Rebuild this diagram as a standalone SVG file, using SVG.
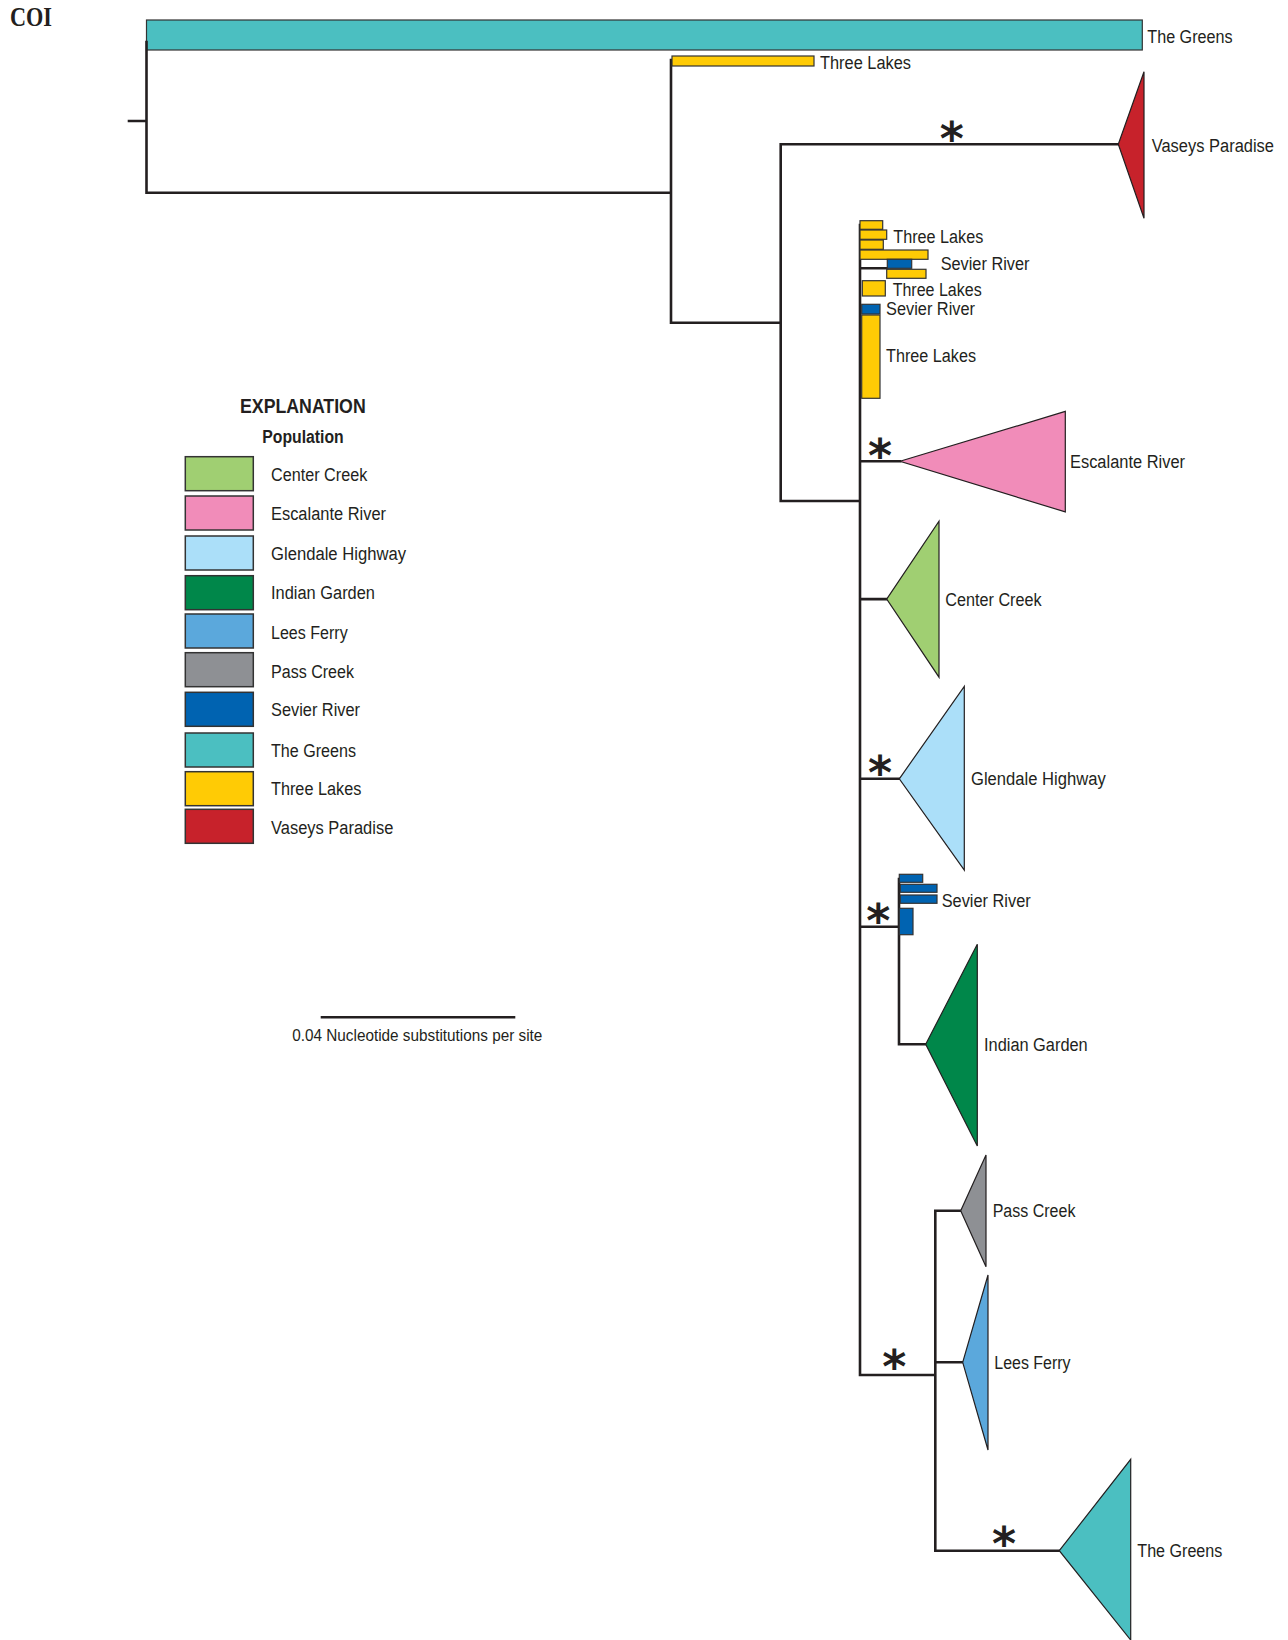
<svg xmlns="http://www.w3.org/2000/svg" width="1288" height="1640" viewBox="0 0 1288 1640">
<style>
.lbl{font-family:"Liberation Sans",Arial,sans-serif;font-size:18px;fill:#231f20}
.bold{font-family:"Liberation Sans",Arial,sans-serif;font-weight:bold;fill:#231f20}
.br{fill:none;stroke:#231f20;stroke-width:2.6;stroke-linecap:square}
.bar{stroke:#333;stroke-width:1.2}
.tri{stroke:#231f20;stroke-width:1.2;stroke-linejoin:miter}
.sw{stroke:#333;stroke-width:1.5}
.ast{font-family:"DejaVu Sans",sans-serif;font-weight:bold;font-size:46px;fill:#231f20;text-anchor:middle}
.cc{fill:#a0cf72}.er{fill:#f18cb9}.gh{fill:#abdff9}.ig{fill:#00874a}.lf{fill:#5ba8dc}
.pc{fill:#8e9094}.sr{fill:#0063b1}.tg{fill:#4bbfc1}.tl{fill:#ffcb05}.vp{fill:#c7222b}
</style>
<text x="10" y="26" class="bold" style="font-family:'Liberation Serif',serif;font-size:27px" textLength="42" lengthAdjust="spacingAndGlyphs">COI</text>

<g id="leaf-the-greens-top">
<rect x="146.5" y="20" width="995.8" height="30" class="bar tg"/>
<text x="1147.3" y="43.2" class="lbl" textLength="85.3" lengthAdjust="spacingAndGlyphs">The Greens</text>
</g>

<g id="connectors">
<path class="br" d="M129,121 H146.5 M146.5,42 V192.7 H671 M671,60 V322.7 H780.7 M780.7,144.3 V501 M780.7,144.3 H1118.3 M780.7,501 H860 M860,225 V1375 M860,268.3 H887 M860,461.3 H900 M860,599.1 H886.7 M860,778.8 H899.3 M860,926.7 H899 M899,879 V1044.3 H925.7 M860,1375 H935.3 M935.3,1210.7 V1550.7 M935.3,1210.7 H960.7 M935.3,1362.3 H962.7 M935.3,1550.7 H1059.3"/>
</g>

<g id="leaf-three-lakes-top">
<rect x="672" y="56" width="142" height="10" class="bar tl"/>
<text x="820" y="69.2" class="lbl" textLength="91" lengthAdjust="spacingAndGlyphs">Three Lakes</text>
</g>

<g id="clade-vaseys-paradise">
<polygon points="1118.3,144.3 1144,71.7 1144,218.3" class="tri vp"/>
<text x="1151.7" y="152.2" class="lbl" textLength="122.3" lengthAdjust="spacingAndGlyphs">Vaseys Paradise</text>
</g>

<g id="leaves-small-bars">
<rect x="860" y="220.7" width="22.7" height="8.6" class="bar tl"/>
<rect x="860" y="230" width="26.7" height="9.3" class="bar tl"/>
<rect x="860" y="240" width="23.3" height="9.3" class="bar tl"/>
<rect x="860" y="250" width="68" height="9.3" class="bar tl"/>
<rect x="887.3" y="259.3" width="24.4" height="9" class="bar sr"/>
<rect x="886.7" y="269.3" width="39.3" height="9" class="bar tl"/>
<rect x="862.3" y="280.7" width="23" height="15.3" class="bar tl"/>
<rect x="861.7" y="304.3" width="18.3" height="9.7" class="bar sr"/>
<rect x="861.7" y="315" width="18.3" height="83.3" class="bar tl"/>
<text x="893.3" y="242.7" class="lbl" textLength="90" lengthAdjust="spacingAndGlyphs">Three Lakes</text>
<text x="940.7" y="270" class="lbl" textLength="88.7" lengthAdjust="spacingAndGlyphs">Sevier River</text>
<text x="892.7" y="296" class="lbl" textLength="89" lengthAdjust="spacingAndGlyphs">Three Lakes</text>
<text x="886" y="315.3" class="lbl" textLength="89" lengthAdjust="spacingAndGlyphs">Sevier River</text>
<text x="886" y="362" class="lbl" textLength="90" lengthAdjust="spacingAndGlyphs">Three Lakes</text>
</g>

<g id="clade-escalante-river">
<polygon points="900,461.3 1065.3,411.4 1065.3,511.9" class="tri er"/>
<text x="1070" y="467.8" class="lbl" textLength="115" lengthAdjust="spacingAndGlyphs">Escalante River</text>
</g>

<g id="clade-center-creek">
<polygon points="886.7,599.1 939,521.2 939,677.2" class="tri cc"/>
<text x="945.3" y="605.6" class="lbl" textLength="96.3" lengthAdjust="spacingAndGlyphs">Center Creek</text>
</g>

<g id="clade-glendale-highway">
<polygon points="899.3,778.8 964.3,686.5 964.3,870.1" class="tri gh"/>
<text x="971" y="785.3" class="lbl" textLength="134.7" lengthAdjust="spacingAndGlyphs">Glendale Highway</text>
</g>

<g id="leaves-sevier-river">
<rect x="899.3" y="874.3" width="23.4" height="8" class="bar sr"/>
<rect x="900.3" y="884.3" width="36.7" height="8" class="bar sr"/>
<rect x="900.3" y="895" width="36.7" height="8.3" class="bar sr"/>
<rect x="899.3" y="908.3" width="13.7" height="26.4" class="bar sr"/>
<text x="941.7" y="907.3" class="lbl" textLength="89" lengthAdjust="spacingAndGlyphs">Sevier River</text>
</g>

<g id="clade-indian-garden">
<polygon points="925.7,1044.3 977.3,944.3 977.3,1146" class="tri ig"/>
<text x="984" y="1051" class="lbl" textLength="103.7" lengthAdjust="spacingAndGlyphs">Indian Garden</text>
</g>

<g id="clade-pass-creek">
<polygon points="960.7,1210.7 986,1155 986,1266.7" class="tri pc"/>
<text x="992.7" y="1217.3" class="lbl" textLength="82.7" lengthAdjust="spacingAndGlyphs">Pass Creek</text>
</g>

<g id="clade-lees-ferry">
<polygon points="962.7,1362.3 988,1275 988,1450" class="tri lf"/>
<text x="994.3" y="1369" class="lbl" textLength="76.3" lengthAdjust="spacingAndGlyphs">Lees Ferry</text>
</g>

<g id="clade-the-greens">
<polygon points="1059.3,1550.7 1130.7,1459.3 1130.7,1640" class="tri tg"/>
<text x="1137.3" y="1557.3" class="lbl" textLength="85" lengthAdjust="spacingAndGlyphs">The Greens</text>
</g>

<g id="support">
<text x="951.7" y="155" class="ast">*</text>
<text x="880" y="472" class="ast">*</text>
<text x="880" y="789" class="ast">*</text>
<text x="878.3" y="936.6" class="ast">*</text>
<text x="894.3" y="1383.3" class="ast">*</text>
<text x="1004" y="1560" class="ast">*</text>
</g>

<g id="legend">
<text x="240" y="413.3" class="bold" style="font-size:21px" textLength="125.7" lengthAdjust="spacingAndGlyphs">EXPLANATION</text>
<text x="262.3" y="443.3" class="bold" style="font-size:17.5px" textLength="81.4" lengthAdjust="spacingAndGlyphs">Population</text>
<rect x="185.3" y="456.7" width="68" height="34" class="sw cc"/>
<rect x="185.3" y="496" width="68" height="34" class="sw er"/>
<rect x="185.3" y="536" width="68" height="34" class="sw gh"/>
<rect x="185.3" y="575.7" width="68" height="34" class="sw ig"/>
<rect x="185.3" y="614" width="68" height="34" class="sw lf"/>
<rect x="185.3" y="652.7" width="68" height="34" class="sw pc"/>
<rect x="185.3" y="692.3" width="68" height="34" class="sw sr"/>
<rect x="185.3" y="733" width="68" height="34" class="sw tg"/>
<rect x="185.3" y="771.7" width="68" height="34" class="sw tl"/>
<rect x="185.3" y="809.3" width="68" height="34" class="sw vp"/>
<text x="271" y="481" class="lbl" textLength="96.3" lengthAdjust="spacingAndGlyphs">Center Creek</text>
<text x="271" y="519.5" class="lbl" textLength="115" lengthAdjust="spacingAndGlyphs">Escalante River</text>
<text x="271" y="560" class="lbl" textLength="135" lengthAdjust="spacingAndGlyphs">Glendale Highway</text>
<text x="271" y="599" class="lbl" textLength="104" lengthAdjust="spacingAndGlyphs">Indian Garden</text>
<text x="271" y="638.5" class="lbl" textLength="76.7" lengthAdjust="spacingAndGlyphs">Lees Ferry</text>
<text x="271" y="677.5" class="lbl" textLength="83" lengthAdjust="spacingAndGlyphs">Pass Creek</text>
<text x="271" y="716" class="lbl" textLength="89" lengthAdjust="spacingAndGlyphs">Sevier River</text>
<text x="271" y="756.8" class="lbl" textLength="85" lengthAdjust="spacingAndGlyphs">The Greens</text>
<text x="271" y="795" class="lbl" textLength="90.3" lengthAdjust="spacingAndGlyphs">Three Lakes</text>
<text x="271" y="833.5" class="lbl" textLength="122.3" lengthAdjust="spacingAndGlyphs">Vaseys Paradise</text>
</g>

<g id="scale-bar">
<path class="br" d="M322,1017.3 H514"/>
<text x="292.3" y="1040.7" class="lbl" style="font-size:16px" textLength="250" lengthAdjust="spacingAndGlyphs">0.04 Nucleotide substitutions per site</text>
</g>
</svg>
